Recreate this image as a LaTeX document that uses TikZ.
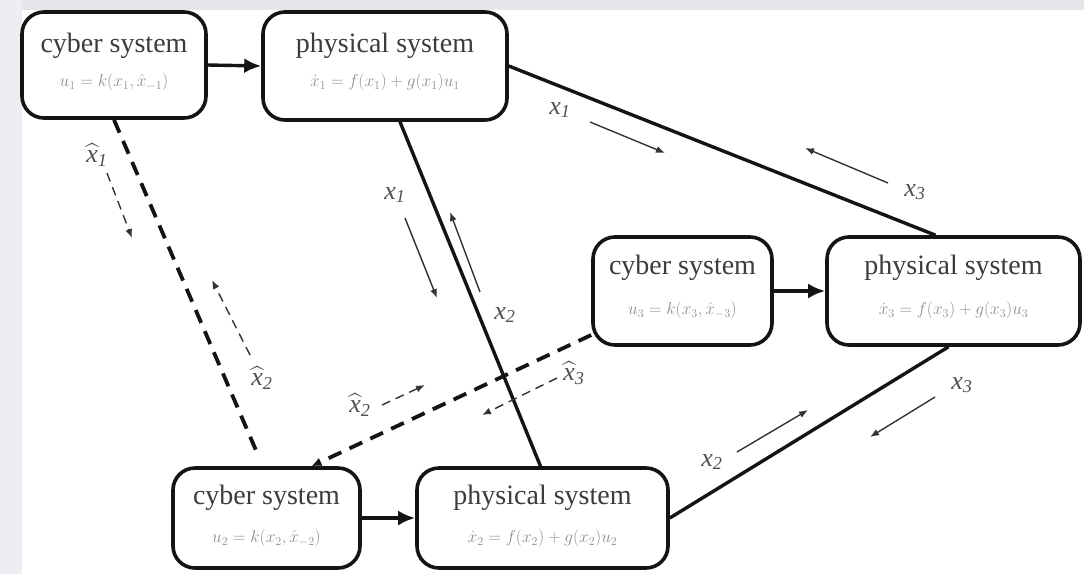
\documentclass[tikz,border=0pt]{standalone}
\usepackage{fontspec}
\usepackage{amsmath}
\setmainfont{Liberation Serif}
\usetikzlibrary{arrows.meta,calc}
\definecolor{edgegrey}{HTML}{E4E6EA}
\definecolor{sidegrey}{HTML}{EDEEF1}
\definecolor{titlegrey}{HTML}{3C3C3C}
\definecolor{mathgrey}{HTML}{8E8E8E}
\definecolor{labelgrey}{HTML}{505050}
\tikzset{
  sysbox/.style={draw=black!92, line width=3.6pt, rounded corners=22pt, fill=white, inner sep=0pt},
  boxtitle/.style={text=titlegrey, font=\fontsize{28}{30}\selectfont, inner sep=0pt},
  boxmath/.style={text=mathgrey, font=\fontsize{16.5}{18}\selectfont, inner sep=0pt},
  feed/.style={line width=3.4pt, draw=black!92, -{Latex[length=17pt,width=15pt]}},
  wire/.style={line width=3.4pt, draw=black!92},
  wireless/.style={line width=3.8pt, draw=black!92, dash pattern=on 14pt off 9pt},
  flow/.style={line width=1.4pt, draw=black!80, -{Latex[length=9pt,width=7pt]}},
  dflow/.style={line width=1.4pt, draw=black!80, dash pattern=on 9pt off 6pt, -{Latex[length=9pt,width=7pt]}},
  sig/.style={text=labelgrey, font=\fontsize{26}{28}\selectfont\itshape, inner sep=0pt},
}
\newcommand{\sigx}[1]{$\text{\itshape x}_{\text{\itshape #1}}$}
\newcommand{\sighat}[1]{$\widehat{\text{\itshape x}}_{\text{\itshape #1}}$}
\begin{document}
\begin{tikzpicture}[x=1pt,y=-1pt]
  \useasboundingbox (0,0) rectangle (1084,574);
  \fill[white] (0,0) rectangle (1084,574);
  \fill[edgegrey] (0,0) rectangle (1084,10);
  \fill[sidegrey] (0,0) rectangle (22,574);

  % subsystem 1
  \node[sysbox, minimum width=184pt, minimum height=106pt] (c1) at (114,65) {};
  \node[sysbox, minimum width=244pt, minimum height=108pt] (p1) at (385,66) {};
  % subsystem 3
  \node[sysbox, minimum width=179pt, minimum height=108pt] (c3) at (682.5,291) {};
  \node[sysbox, minimum width=253pt, minimum height=108pt] (p3) at (953.5,291) {};
  % subsystem 2
  \node[sysbox, minimum width=187pt, minimum height=100pt] (c2) at (266.5,518) {};
  \node[sysbox, minimum width=251pt, minimum height=100pt] (p2) at (542.5,518) {};

  % box texts
  \node[boxtitle] (c1t) at ($(c1.north)+(0,36)$) {cyber system};
  \node[boxmath]  (c1m) at ($(c1.north)+(0,72)$) {$u_1 = k(x_1,\hat{x}_{-1})$};
  \node[boxtitle] (p1t) at ($(p1.north)+(0,36)$) {physical system};
  \node[boxmath]  (p1m) at ($(p1.north)+(0,72)$) {$\dot{x}_1 = f(x_1) + g(x_1)u_1$};
  \node[boxtitle] (c3t) at ($(c3.north)+(0,33)$) {cyber system};
  \node[boxmath]  (c3m) at ($(c3.north)+(0,75)$) {$u_3 = k(x_3,\hat{x}_{-3})$};
  \node[boxtitle] (p3t) at ($(p3.north)+(0,33)$) {physical system};
  \node[boxmath]  (p3m) at ($(p3.north)+(0,75)$) {$\dot{x}_3 = f(x_3) + g(x_3)u_3$};
  \node[boxtitle] (c2t) at ($(c2.north)+(0,32)$) {cyber system};
  \node[boxmath]  (c2m) at ($(c2.north)+(0,72)$) {$u_2 = k(x_2,\hat{x}_{-2})$};
  \node[boxtitle] (p2t) at ($(p2.north)+(0,32)$) {physical system};
  \node[boxmath]  (p2m) at ($(p2.north)+(0,72)$) {$\dot{x}_2 = f(x_2) + g(x_2)u_2$};

  % controller -> plant
  \draw[feed] (c1.east) -- (p1.west);
  \draw[feed] (c3.east) -- (p3.west);
  \draw[feed] (c2.east) -- (p2.west);

  % physical couplings
  \draw[wire] (p1.east) -- ([xshift=-18pt]p3.north);
  \draw[wire] ([xshift=15pt]p1.south) -- ([xshift=-2pt]p2.north);
  \draw[wire] (p2.east) -- ([xshift=-5pt]p3.south);

  % cyber links
  \coordinate (c1end) at ($(c2.north)+(-8,-10)$);
  \draw[wireless] (c1.south) -- (c1end);
  \draw[wireless, -{Latex[length=10pt,width=9pt]}] ([yshift=-44pt]c3.west) -- ([xshift=45pt]c2.north);

  % state flows between plants
  \coordinate (f1a) at (590,122); \coordinate (f1b) at (665,153);
  \coordinate (f3a) at (888,183); \coordinate (f3b) at (805,148);
  \coordinate (f4a) at (405,218); \coordinate (f4b) at (437,298);
  \coordinate (f5a) at (480,292); \coordinate (f5b) at (450,212);
  \coordinate (f6a) at (737,452); \coordinate (f6b) at (808,410);
  \coordinate (f7a) at (935,397); \coordinate (f7b) at (870,437);
  \draw[flow] (f1a) -- (f1b);
  \draw[flow] (f3a) -- (f3b);
  \draw[flow] (f4a) -- (f4b);
  \draw[flow] (f5a) -- (f5b);
  \draw[flow] (f6a) -- (f6b);
  \draw[flow] (f7a) -- (f7b);

  % estimate flows between controllers
  \coordinate (e1a) at (107,173); \coordinate (e1b) at (132,238);
  \coordinate (e2a) at (250,355); \coordinate (e2b) at (212,280);
  \coordinate (e3a) at (382,405); \coordinate (e3b) at (425,385);
  \coordinate (e4a) at (557,378); \coordinate (e4b) at (482,415);
  \draw[dflow] (e1a) -- (e1b);
  \draw[dflow] (e2a) -- (e2b);
  \draw[dflow] (e3a) -- (e3b);
  \draw[dflow] (e4a) -- (e4b);

  % signal labels
  \node[sig] (l1) at (560,110) {\sigx{1}};
  \node[sig] (l2) at (915,192) {\sigx{3}};
  \node[sig] (l3) at (395,195) {\sigx{1}};
  \node[sig] (l4) at (505,315) {\sigx{2}};
  \node[sig] (l5) at (712,462) {\sigx{2}};
  \node[sig] (l6) at (962,385) {\sigx{3}};
  \node[sig] (h1) at (97,155) {\sighat{1}};
  \node[sig] (h2) at (262,378) {\sighat{2}};
  \node[sig] (h3) at (360,405) {\sighat{2}};
  \node[sig] (h4) at (574,373) {\sighat{3}};
\end{tikzpicture}
\end{document}
